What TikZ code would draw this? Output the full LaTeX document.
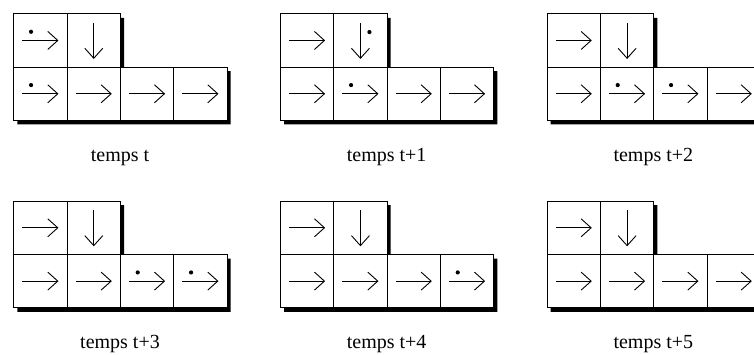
\documentclass[tikz,border=0pt]{standalone}
\usepackage{fontspec}
\setmainfont{Liberation Serif}
\usetikzlibrary{arrows.meta}
\tikzset{
  cellbox/.style={draw, line width=0.9pt, fill=white, minimum size=53.33pt, inner sep=0pt, anchor=north west},
  flow/.style={line width=0.9pt, -{Straight Barb[length=10pt,width=18pt,line width=0.9pt]}},
  ball/.style={circle, fill=black, draw=none, inner sep=0pt, minimum size=4.2pt},
  caption/.style={font=\fontsize{20}{24}\selectfont, anchor=base, inner sep=0pt},
}
\newcommand\myrdot[2]{\node[ball] (#2) at ([shift={(-9.4,8.7)}]#1.center) {};}
\newcommand\myddot[2]{\node[ball] (#2) at ([shift={(9.0,8.4)}]#1.center) {};}
\newcommand\mypanel[5]{%
  \begin{scope}[shift={(#1,#2)}]
    \fill (4,-4.5) -- ++(106.67,0) -- ++(0,-53.33) -- ++(106.67,0) -- ++(0,-53.33) -- ++(-213.33,0) -- cycle;
    \node[cellbox] (#3a) at (0,0) {};
    \node[cellbox] (#3b) at (53.33,0) {};
    \node[cellbox] (#3r1) at (0,-53.33) {};
    \node[cellbox] (#3r2) at (53.33,-53.33) {};
    \node[cellbox] (#3r3) at (106.67,-53.33) {};
    \node[cellbox] (#3r4) at (160,-53.33) {};
    \foreach \c in {#3a,#3r1,#3r2,#3r3,#3r4}
      \draw[flow] ([xshift=-18pt]\c.center) -- ([xshift=18pt]\c.center);
    \draw[flow] ([yshift=17.5pt]#3b.center) -- ([yshift=-18.5pt]#3b.center);
    #5
    \node[caption] (#3t) at (106.67,-147.7) {#4};
  \end{scope}}
\begin{document}
\begin{tikzpicture}[x=1pt,y=1pt]
  \useasboundingbox (0,0) rectangle (754,-354);
  \mypanel{13.33}{-13.33}{pa}{temps t}{\myrdot{paa}{pad1}\myrdot{par1}{pad2}}
  \mypanel{280}{-13.33}{pb}{temps t+1}{\myddot{pbb}{pbd1}\myrdot{pbr2}{pbd2}}
  \mypanel{546.67}{-13.33}{pc}{temps t+2}{\myrdot{pcr2}{pcd1}\myrdot{pcr3}{pcd2}}
  \mypanel{13.33}{-200.67}{pd}{temps t+3}{\myrdot{pdr3}{pdd1}\myrdot{pdr4}{pdd2}}
  \mypanel{280}{-200.67}{pe}{temps t+4}{\myrdot{per4}{ped1}}
  \mypanel{546.67}{-200.67}{pf}{temps t+5}{}
\end{tikzpicture}
\end{document}
